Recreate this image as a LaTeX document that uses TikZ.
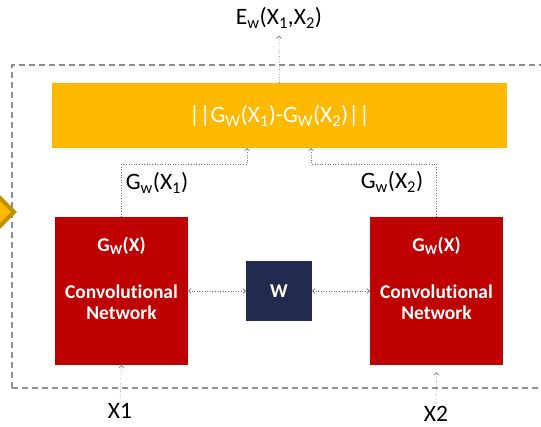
\documentclass[tikz,border=0pt]{standalone}
\usepackage{fontspec}
\setmainfont{Carlito}[Ligatures={NoCommon,NoRare,NoContextual}]
\usetikzlibrary{arrows.meta}
\definecolor{amber}{HTML}{FFB900}
\definecolor{amberdark}{HTML}{BF9000}
\definecolor{netred}{HTML}{BE0000}
\definecolor{navy}{HTML}{222B4F}
\definecolor{frame}{HTML}{8A9199}
\definecolor{wire}{HTML}{6E6E6E}
\newcommand{\sub}[1]{\textsubscript{#1}}
\tikzset{
  netbox/.style={fill=netred, draw=none, minimum width=133pt, minimum height=148pt, inner sep=0pt},
  whitebold/.style={text=white, font=\bfseries\fontsize{19.5}{22}\selectfont, inner sep=0pt},
  label/.style={text=black, font=\fontsize{23.5}{27}\selectfont, inner sep=1pt},
  conn/.style={draw=wire, line width=0.6pt, dotted, -{Straight Barb[length=2.5pt,width=5pt]}},
  conn2/.style={draw=wire, line width=0.6pt, dotted, {Straight Barb[length=2.5pt,width=5pt]}-{Straight Barb[length=2.5pt,width=5pt]}},
}
\begin{document}
\begin{tikzpicture}[x=1pt, y=-1pt]
\useasboundingbox (0,0) rectangle (541,426);
\clip (0,0) rectangle (541,426);

% outer dashed frame, open past the right edge
\draw[frame, line width=1.3pt, dash pattern=on 6pt off 4pt] (12,388) -- (12,65) -- (560,65);
\draw[frame, line width=1.3pt, dash pattern=on 6pt off 4pt] (12,388) -- (560,388);

% chevron marker at the left edge
\draw[amberdark, fill=amber, line width=4pt, line join=miter] (-30,168) -- (14,212) -- (-30,256) -- cycle;

% distance block
\node[fill=amber, minimum width=455pt, minimum height=65pt, inner sep=0pt] (O) at (279.5,115.5) {};
\node[text=white, font=\fontsize{23.5}{27}\selectfont] at (279.5,116) {||G\sub{W}(X\sub{1})-G\sub{W}(X\sub{2})||};

% twin networks
\node[netbox] (L) at (121.5,291) {};
\node[netbox] (R) at (436.5,291) {};
\foreach \b in {L,R} {
  \node[whitebold] at ([yshift=-29pt]\b.north) {G\sub{W}(X)};
  \node[whitebold] at ([yshift=-75pt]\b.north) {Convolut{}ional};
  \node[whitebold] at ([yshift=-96pt]\b.north) {Network};
}

% shared weights
\node[fill=navy, minimum width=66pt, minimum height=60pt, inner sep=0pt, text=white, font=\bfseries\fontsize{19.5}{22}\selectfont] (W) at (279,291) {W};

% labels
\node[label] (E) at (279,18) {E\sub{w}(X\sub{1},X\sub{2})};
\node[label] (G1) at (157,183) {G\sub{w}(X\sub{1})};
\node[label] (G2) at (392,182) {G\sub{w}(X\sub{2})};
\node[label] (X1) at (120,411) {X1};
\node[label] (X2) at (436,414) {X2};

% inputs into the distance block
\coordinate (in1) at (247,148);
\coordinate (in2) at (311,148);
\draw[conn] (L.north) |- ([yshift=-16pt]in1) -- (in1);
\draw[conn] (R.north) |- ([yshift=-16pt]in2) -- (in2);

% output energy
\draw[conn, shorten >=6pt] (O.north) -- (E.south);

% weight sharing
\draw[conn2] (L.east) -- (W.west);
\draw[conn2] (W.east) -- (R.west);

% raw inputs
\draw[conn] (X1.north) -- (L.south);
\draw[conn, shorten >=7pt] (X2.north) -- (R.south);
\end{tikzpicture}
\end{document}
